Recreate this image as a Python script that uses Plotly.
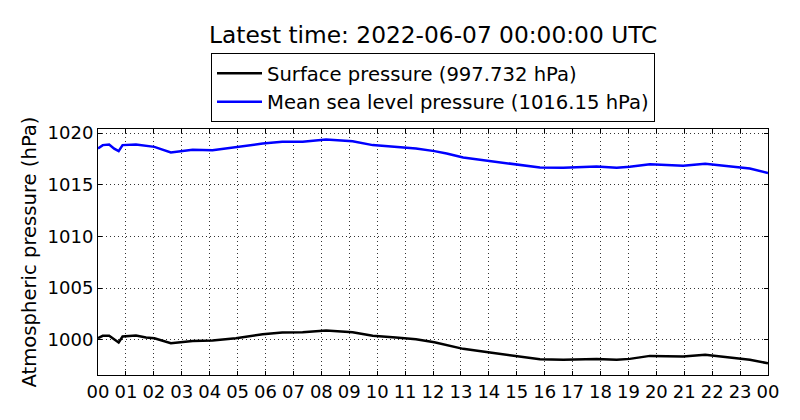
import plotly.graph_objects as go

# hours since 2022-06-06 00:00 UTC
hours = [0.0, 0.17, 0.4, 0.58, 0.74, 0.88, 1.36, 1.72, 2.02, 2.61, 3.39, 4.1,
         4.94, 5.9, 6.6, 7.33, 8.17, 9.12, 9.84, 10.67, 11.39, 12.05, 12.49,
         13.08, 14.04, 15.0, 15.83, 16.67, 17.86, 18.58, 19.05, 19.77, 20.96,
         21.75, 22.63, 23.35, 24.0]

surface = [1000.16, 1000.39, 1000.39, 1000.07, 999.74, 1000.32, 1000.42,
           1000.23, 1000.16, 999.68, 999.90, 999.94, 1000.16, 1000.55, 1000.71,
           1000.74, 1000.90, 1000.74, 1000.39, 1000.23, 1000.06, 999.77, 999.52,
           999.13, 998.77, 998.45, 998.13, 998.07, 998.16, 998.07, 998.16,
           998.45, 998.39, 998.55, 998.32, 998.07, 997.732]

msl = [1018.51, 1018.84, 1018.90, 1018.50, 1018.26, 1018.84, 1018.90, 1018.74,
       1018.67, 1018.13, 1018.39, 1018.35, 1018.67, 1018.99, 1019.16, 1019.16,
       1019.38, 1019.22, 1018.84, 1018.67, 1018.51, 1018.26, 1018.03, 1017.64,
       1017.29, 1017.00, 1016.67, 1016.64, 1016.77, 1016.64, 1016.74, 1017.00,
       1016.84, 1017.03, 1016.80, 1016.58, 1016.15]

tick_hours = list(range(25))
tick_labels = ["%02d" % (h % 24) for h in tick_hours]
pressure_ticks = [1000, 1005, 1010, 1015, 1020]

font = "DejaVu Sans"

fig = go.Figure()
fig.add_trace(go.Scatter(x=hours, y=surface, mode="lines",
                         name="Surface pressure (997.732 hPa)",
                         line=dict(color="black", width=2.5)))
fig.add_trace(go.Scatter(x=hours, y=msl, mode="lines",
                         name="Mean sea level pressure (1016.15 hPa)",
                         line=dict(color="#0000ff", width=2.5)))

axis_style = dict(showline=True, linecolor="black", linewidth=1, mirror="ticks",
                  ticks="inside", ticklen=4, tickcolor="black", automargin=False,
                  showgrid=True, gridcolor="#333333", griddash="1px,3px", gridwidth=1,
                  zeroline=False, tickfont=dict(size=18, color="black"))

fig.update_xaxes(range=[0, 24], tickvals=tick_hours, ticktext=tick_labels, **axis_style)
fig.update_yaxes(range=[996.6, 1020.4], tickvals=pressure_ticks,
                 title=dict(text="Atmospheric pressure (hPa)", font=dict(size=19.6, color="black"),
                            standoff=5),
                 **axis_style)

# page body adds an 8px offset, so margins are shifted to compensate
fig.update_layout(
    width=800, height=420,
    margin=dict(l=90, r=40, t=121, b=53),
    paper_bgcolor="white", plot_bgcolor="white",
    font=dict(family=font, color="black"),
    title=dict(text="Latest time: 2022-06-07 00:00:00 UTC", x=0.5315, xanchor="center",
               y=0.936, yanchor="middle", font=dict(size=23.3, color="black")),
    showlegend=True,
    legend=dict(x=0.5, xanchor="center", y=1.309, yanchor="top",
                bordercolor="black", borderwidth=1, bgcolor="white", itemwidth=45,
                font=dict(size=19.6, color="black")),
)

fig.write_html("out.html")
